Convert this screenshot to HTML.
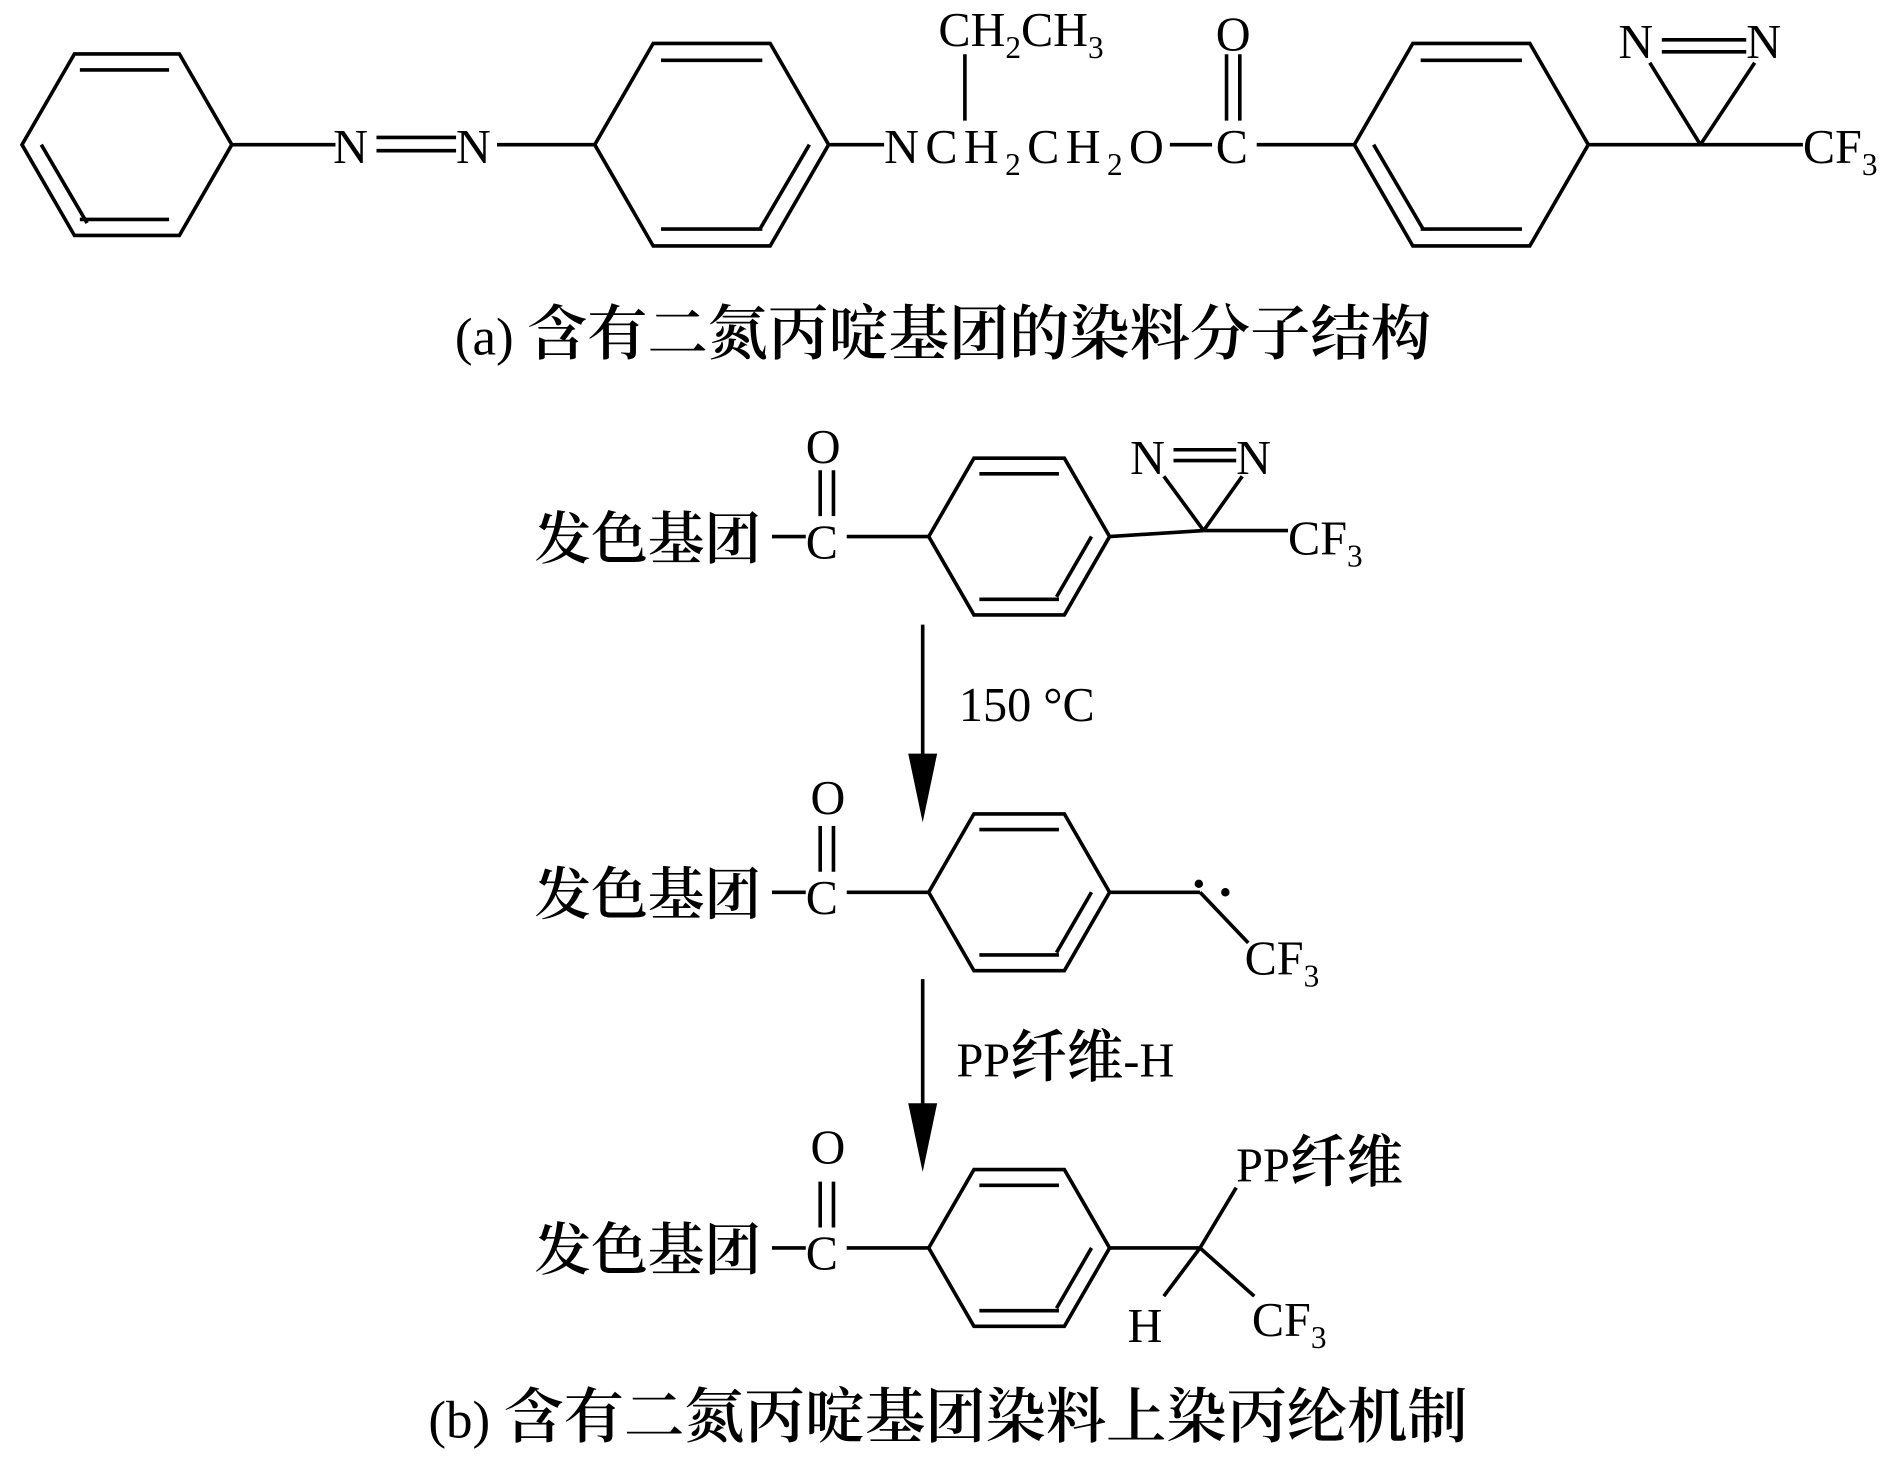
<!DOCTYPE html>
<html><head><meta charset="utf-8"><style>
html,body{margin:0;padding:0;background:#fff;}
svg{display:block}
text{font-family:"Liberation Serif","Noto Serif CJK SC","Noto Sans CJK SC",serif;fill:#000}
.c{font-family:"Noto Serif CJK SC","Noto Sans CJK SC",serif;font-size:47px;font-weight:600}
.cap{font-size:44px}
.cap .c{font-size:50px}
</style></head><body>
<svg width="1890" height="1465" viewBox="0 0 1567 1215" xmlns="http://www.w3.org/2000/svg">
<g stroke="#000" stroke-width="3" fill="none">
<polygon points="192,120 148.5,44.7 61.5,44.7 18,120 61.5,195.3 148.5,195.3"/>
<polyline points="140,58 66,58"/><polyline points="34,120 72,185"/><polyline points="66,182 140,182"/>
<line x1="192" y1="120" x2="278" y2="120"/>
<line x1="312" y1="114" x2="378" y2="114"/><line x1="312" y1="125" x2="378" y2="125"/>
<line x1="412" y1="120" x2="493" y2="120"/>
<polygon points="687,120 638.5,36 541.5,36 493,120 541.5,204 638.5,204"/>
<line x1="548" y1="50" x2="632" y2="50"/><line x1="548" y1="190" x2="632" y2="190"/><line x1="671" y1="120" x2="630" y2="190"/>
<line x1="687" y1="120" x2="733" y2="120"/>
<line x1="800" y1="45" x2="800" y2="100"/>
<line x1="970" y1="120" x2="1005" y2="120"/>
<line x1="1017" y1="45" x2="1017" y2="100"/><line x1="1028" y1="45" x2="1028" y2="100"/>
<line x1="1042" y1="120" x2="1123" y2="120"/>
<polygon points="1317,120 1268.5,36 1171.5,36 1123,120 1171.5,204 1268.5,204"/>
<line x1="1178" y1="50" x2="1262" y2="50"/><line x1="1178" y1="190" x2="1262" y2="190"/><line x1="1139" y1="120" x2="1180" y2="190"/>
<line x1="1317" y1="120" x2="1410" y2="120"/>
<line x1="1410" y1="120" x2="1368" y2="52"/><line x1="1410" y1="120" x2="1455" y2="52"/>
<line x1="1378" y1="33" x2="1448" y2="33"/><line x1="1378" y1="43" x2="1448" y2="43"/>
<line x1="1410" y1="120" x2="1495" y2="120"/>

<g id="r1">
<line x1="640" y1="445" x2="668" y2="445"/>
<line x1="680" y1="390" x2="680" y2="428"/><line x1="691" y1="390" x2="691" y2="428"/>
<line x1="702" y1="445" x2="770" y2="445"/>
<polygon points="920,445 882.5,380 807.5,380 770,445 807.5,510 882.5,510"/>
<line x1="812" y1="393" x2="878" y2="393"/><line x1="812" y1="497" x2="878" y2="497"/><line x1="905" y1="445" x2="876" y2="495"/>
</g>
<line x1="920" y1="445" x2="998" y2="440"/>
<line x1="998" y1="440" x2="965" y2="395"/><line x1="998" y1="440" x2="1030" y2="395"/>
<line x1="973" y1="373" x2="1025" y2="373"/><line x1="973" y1="382" x2="1025" y2="382"/>
<line x1="998" y1="440" x2="1068" y2="440"/>

<use href="#r1" y="295"/>
<line x1="920" y1="740" x2="995" y2="740"/>
<line x1="995" y1="740" x2="1035" y2="782"/>

<use href="#r1" y="590"/>
<line x1="920" y1="1035" x2="995" y2="1035"/>
<line x1="995" y1="1035" x2="1025" y2="985"/>
<line x1="995" y1="1035" x2="965" y2="1075"/>
<line x1="995" y1="1035" x2="1040" y2="1075"/>

<line x1="765" y1="518" x2="765" y2="640"/>
<line x1="765" y1="812" x2="765" y2="930"/>
</g>
<polygon points="753,625 777,625 765,682" fill="#000"/>
<polygon points="753,915 777,915 765,972" fill="#000"/>
<circle cx="994" cy="733" r="3.5" fill="#000"/><circle cx="1016" cy="740" r="3.5" fill="#000"/>

<g font-size="40">
<text x="276" y="135">N</text><text x="378" y="135">N</text>
<text x="778" y="38">CH<tspan font-size="26" dy="10">2</tspan><tspan dy="-10">CH</tspan><tspan font-size="26" dy="10">3</tspan></text>
<text x="733" y="135" textLength="232" lengthAdjust="spacing">NCH<tspan font-size="26" dy="10">2</tspan><tspan dy="-10">CH</tspan><tspan font-size="26" dy="10">2</tspan><tspan dy="-10">O</tspan></text>
<text x="1008" y="42">O</text><text x="1008" y="135">C</text>
<text x="1342" y="48">N</text><text x="1448" y="48">N</text>
<text x="1495" y="135">CF<tspan font-size="26" dy="10">3</tspan></text>
<text class="cap" x="377" y="294">(a) <tspan class="c">含有二氮丙啶基团的染料分子结构</tspan></text>

<text x="668" y="384">O</text><text x="668" y="463">C</text>
<text x="937" y="393">N</text><text x="1025" y="393">N</text>
<text x="1068" y="460">CF<tspan font-size="26" dy="10">3</tspan></text>
<text class="c" x="443" y="463">发色基团</text>
<text x="795" y="598">150 °C</text>

<text x="672" y="675">O</text><text x="668" y="758">C</text>
<text class="c" x="443" y="758">发色基团</text>
<text x="1032" y="808">CF<tspan font-size="26" dy="10">3</tspan></text>
<text x="793" y="893">PP<tspan class="c">纤维</tspan>-H</text>

<text x="672" y="965">O</text><text x="668" y="1053">C</text>
<text class="c" x="443" y="1053">发色基团</text>
<text x="1025" y="980">PP<tspan class="c">纤维</tspan></text>
<text x="935" y="1113">H</text>
<text x="1038" y="1108">CF<tspan font-size="26" dy="10">3</tspan></text>
<text class="cap" x="355" y="1192">(b) <tspan class="c">含有二氮丙啶基团染料上染丙纶机制</tspan></text>
</g>
</svg>
</body></html>
